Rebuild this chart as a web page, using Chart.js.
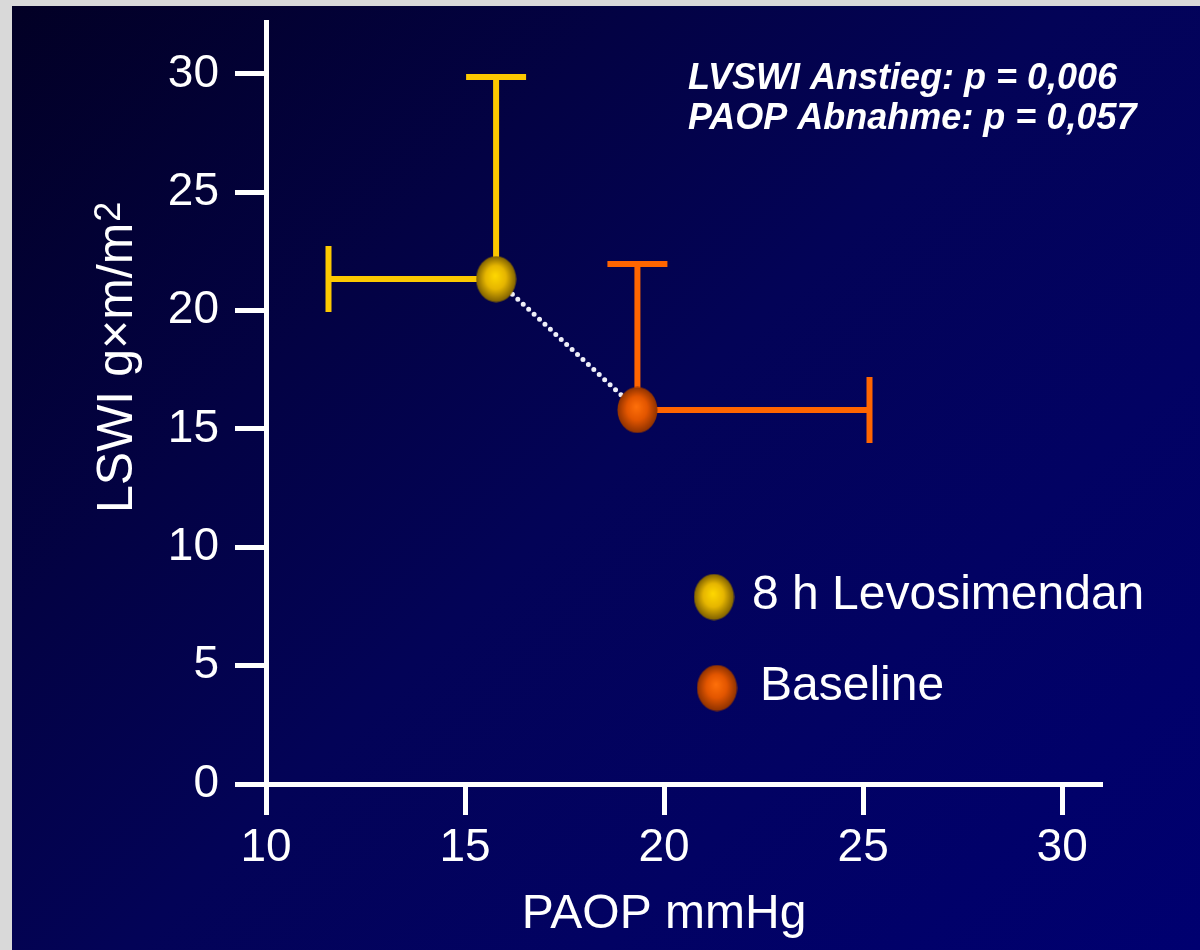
<!DOCTYPE html>
<html>
<head>
<meta charset="utf-8">
<title>LVSWI vs PAOP</title>
<script src="https://cdn.jsdelivr.net/npm/chart.js@4.4.1/dist/chart.umd.min.js"></script>
<style>
  html, body { margin: 0; padding: 0; background: #d9d9d9; }
  #wrap { width: 1200px; height: 950px; }
</style>
</head>
<body>
<div id="wrap"><canvas id="chart" width="1200" height="950"></canvas></div>
<script>
// group means and the single-sided error bar ends
const groups = ['8 h Levosimendan', 'Baseline'];
const paopMean = [15.78, 19.33];
const lvswiMean = [21.33, 15.80];
const paopErrEnd = [11.57, 25.16];   // horizontal bar goes from mean to here
const lvswiErrEnd = [29.87, 21.97];  // vertical bar goes from mean to here
const xTicks = [10, 15, 20, 25, 30];
const yTicks = [0, 5, 10, 15, 20, 25, 30];
const statLines = ['LVSWI Anstieg: p = 0,006', 'PAOP Abnahme: p = 0,057'];

const lineColors = ['#fcc800', '#ff6500'];
const FONT = "'Liberation Sans', Arial, Helvetica, sans-serif";

// shaded ball used as point marker and in the legend
function makeBall(light, mid, dark) {
  const w = 41, h = 47;
  const c = document.createElement('canvas');
  c.width = w; c.height = h;
  const g = c.getContext('2d');
  g.save();
  g.scale(1, h / w);
  const cx = w / 2, cy = w / 2;
  const grad = g.createRadialGradient(cx - 1, cy - 3, 0, cx, cy, w / 2);
  grad.addColorStop(0, light);
  grad.addColorStop(0.5, mid);
  grad.addColorStop(1, dark);
  g.fillStyle = grad;
  g.beginPath();
  g.arc(cx, cy, w / 2 - 0.5, 0, Math.PI * 2);
  g.fill();
  g.restore();
  return c;
}
const balls = [
  makeBall('#ffd800', '#e6b600', '#7a5c00'),
  makeBall('#ff700a', '#e35600', '#8a3000')
];

const bgPlugin = {
  id: 'slideBackground',
  beforeDraw(chart) {
    const ctx = chart.ctx;
    ctx.save();
    ctx.fillStyle = '#d9d9d9';
    ctx.fillRect(0, 0, chart.width, chart.height);
    const grad = ctx.createLinearGradient(0, 0, 1075, 1075);
    grad.addColorStop(0, '#020024');
    grad.addColorStop(0.3, '#030244');
    grad.addColorStop(0.5, '#030357');
    grad.addColorStop(0.72, '#020263');
    grad.addColorStop(1, '#000070');
    ctx.fillStyle = grad;
    ctx.fillRect(12, 6, chart.width - 12, chart.height - 6);
    ctx.restore();
  }
};

const errorBarPlugin = {
  id: 'errorBars',
  beforeDatasetsDraw(chart) {
    const ctx = chart.ctx;
    const xs = chart.scales.x, ys = chart.scales.y;
    const capX = 30, capY = 33;
    ctx.save();
    ctx.lineWidth = 6;
    ctx.lineCap = 'butt';
    for (let i = 0; i < groups.length; i++) {
      const px = xs.getPixelForValue(paopMean[i]);
      const py = ys.getPixelForValue(lvswiMean[i]);
      const ex = xs.getPixelForValue(paopErrEnd[i]);
      const ey = ys.getPixelForValue(lvswiErrEnd[i]);
      ctx.strokeStyle = lineColors[i];
      ctx.beginPath();
      ctx.moveTo(px, py); ctx.lineTo(ex, py);
      ctx.moveTo(ex, py - capY); ctx.lineTo(ex, py + capY);
      ctx.moveTo(px, py); ctx.lineTo(px, ey);
      ctx.moveTo(px - capX, ey); ctx.lineTo(px + capX, ey);
      ctx.stroke();
    }
    ctx.restore();
  }
};

const textPlugin = {
  id: 'slideText',
  afterDraw(chart) {
    const ctx = chart.ctx;
    const xs = chart.scales.x;
    ctx.save();
    ctx.fillStyle = '#ffffff';

    // axis titles
    ctx.font = '48px ' + FONT;
    ctx.textAlign = 'center';
    ctx.textBaseline = 'alphabetic';
    ctx.fillText('PAOP mmHg', xs.getPixelForValue(20), 928);

    ctx.save();
    ctx.translate(132, 513);
    ctx.rotate(-Math.PI / 2);
    ctx.textAlign = 'left';
    ctx.font = '50px ' + FONT;
    const base = 'LSWI g\u00d7m/m';
    ctx.fillText(base, 0, 0);
    const w = ctx.measureText(base).width;
    ctx.font = '36px ' + FONT;
    ctx.fillText('2', w + 1, -12);
    ctx.restore();

    // test results
    ctx.font = 'italic bold 36px ' + FONT;
    ctx.textAlign = 'left';
    ctx.fillText(statLines[0], 688, 89);
    ctx.fillText(statLines[1], 688, 129);

    // legend
    ctx.font = '48px ' + FONT;
    const legendY = [597, 688];
    const legendTextX = [752, 760];
    const legendBallX = [714, 717];
    for (let i = 0; i < groups.length; i++) {
      const b = balls[i];
      ctx.drawImage(b, legendBallX[i] - b.width / 2, legendY[i] - b.height / 2);
      ctx.fillText(groups[i], legendTextX[i], legendY[i] + 12);
    }
    ctx.restore();
  }
};

const axisStyle = {
  grid: {
    drawOnChartArea: false,
    drawTicks: true,
    tickLength: 31,
    tickWidth: 5,
    tickColor: '#ffffff',
    color: '#ffffff',
    lineWidth: 5
  },
  border: { display: true, color: '#ffffff', width: 5 }
};

// fixed scale boxes so the plot area sits where the slide has it
function fixBox(scale, size) {
  if (scale.isHorizontal()) scale.height = size; else scale.width = size;
  scale.paddingTop = 0;
  scale.paddingBottom = 0;
  scale.paddingLeft = 0;
  scale.paddingRight = 0;
}

new Chart(document.getElementById('chart'), {
  type: 'scatter',
  data: {
    datasets: [
      {
        label: groups[0],
        data: [{ x: paopMean[0], y: lvswiMean[0] }],
        pointStyle: balls[0],
        pointRadius: 20
      },
      {
        label: groups[1],
        data: [{ x: paopMean[1], y: lvswiMean[1] }],
        pointStyle: balls[1],
        pointRadius: 20
      },
      {
        type: 'line',
        label: 'change',
        data: paopMean.map((v, i) => ({ x: v, y: lvswiMean[i] })),
        borderColor: '#eeeef8',
        borderWidth: 5,
        borderDash: [0, 7.4],
        borderCapStyle: 'round',
        pointRadius: 0,
        fill: false
      }
    ]
  },
  options: {
    responsive: false,
    animation: false,
    layout: { padding: { top: 22, right: 100, left: 0, bottom: 0 } },
    plugins: {
      legend: { display: false },
      tooltip: { enabled: false }
    },
    scales: {
      x: {
        type: 'linear',
        min: 10,
        max: 30.95,
        afterBuildTicks(scale) { scale.ticks = xTicks.map(v => ({ value: v })); },
        afterFit(scale) { fixBox(scale, 166); },
        ticks: { color: '#ffffff', font: { family: FONT, size: 46 }, padding: 6 },
        ...axisStyle
      },
      y: {
        type: 'linear',
        min: 0,
        max: 32.19,
        afterBuildTicks(scale) { scale.ticks = yTicks.map(v => ({ value: v })); },
        afterFit(scale) { fixBox(scale, 266); },
        ticks: { color: '#ffffff', font: { family: FONT, size: 46 }, padding: 16 },
        ...axisStyle
      }
    }
  },
  plugins: [bgPlugin, errorBarPlugin, textPlugin]
});
</script>
</body>
</html>
